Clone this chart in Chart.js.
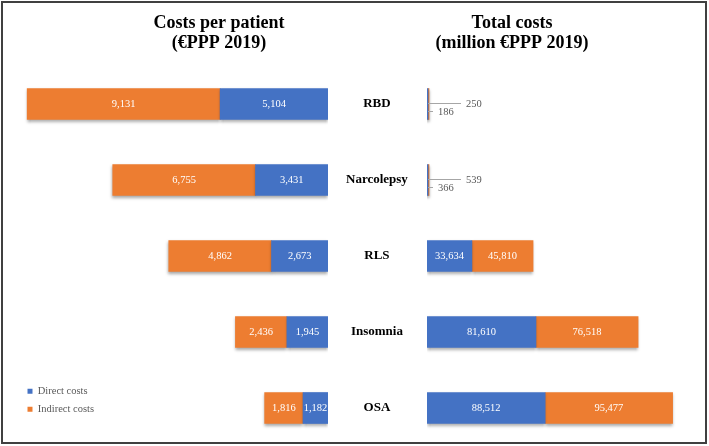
<!DOCTYPE html>
<html>
<head>
<meta charset="utf-8">
<script src="https://cdn.jsdelivr.net/npm/chart.js@4.4.1/dist/chart.umd.min.js"></script>
<style>
  html, body { margin: 0; padding: 0; background: #fff; }
  #wrap { position: relative; width: 709px; height: 446px; overflow: hidden; }
  #frame { position: absolute; left: 1px; top: 1px; width: 706px; height: 443px; border: 2px solid #404040; box-sizing: border-box; }
  canvas { position: absolute; top: 0; }
  #perPatient { left: 0; }
  #total { left: 330px; }
</style>
</head>
<body>
<div id="wrap">
  <div id="frame"></div>
  <canvas id="perPatient" width="427" height="446"></canvas>
  <canvas id="total" width="379" height="446"></canvas>
</div>
<script>
const disorders = ['RBD', 'Narcolepsy', 'RLS', 'Insomnia', 'OSA']
const directPerPatient = [5104, 3431, 2673, 1945, 1182]
const indirectPerPatient = [9131, 6755, 4862, 2436, 1816]
const directTotal = [186, 366, 33634, 81610, 88512]
const indirectTotal = [250, 539, 45810, 76518, 95477]

const BLUE = '#4472C4'
const ORANGE = '#ED7D31'

Chart.defaults.font.family = "'Liberation Serif', 'Times New Roman', serif"
Chart.defaults.animation = false

const titleFont = { size: 18, weight: 'bold', lineHeight: 20 / 18 }

// shadow under the bars + value labels on top
const barLabels = {
  id: 'barLabels',
  beforeDatasetsDraw(chart) {
    const ctx = chart.ctx
    ctx.save()
    ctx.shadowColor = 'rgba(0,0,0,0.35)'
    ctx.shadowBlur = 3
    ctx.shadowOffsetY = 2
  },
  afterDatasetsDraw(chart) {
    const ctx = chart.ctx
    ctx.restore()
    ctx.save()
    ctx.font = '10.5px "Liberation Serif"'
    ctx.textBaseline = 'middle'
    chart.data.datasets.forEach((ds, di) => {
      chart.getDatasetMeta(di).data.forEach((bar, i) => {
        const text = ds.data[i].toLocaleString('en-US')
        const w = Math.abs(bar.x - bar.base)
        if (w > 20) {
          ctx.fillStyle = '#fff'
          ctx.textAlign = 'center'
          ctx.fillText(text, (bar.x + bar.base) / 2, bar.y)
        } else {
          // tiny bars: label pulled out with a leader line
          const x0 = Math.min(bar.x, bar.base)
          const up = di === 1
          const ly = up ? bar.y - 1 : bar.y + 7
          const start = up ? x0 : x0 + 1
          const len = up ? 33 : 5
          ctx.strokeStyle = '#a6a6a6'
          ctx.lineWidth = 1
          ctx.beginPath()
          ctx.moveTo(start, Math.round(ly) + 0.5)
          ctx.lineTo(start + len, Math.round(ly) + 0.5)
          ctx.stroke()
          ctx.fillStyle = '#595959'
          ctx.textAlign = 'left'
          ctx.fillText(text, start + len + 5, ly + 1)
        }
      })
    })
    ctx.restore()
  }
}

// put the in-area legend in the bottom-left corner
const legendSpot = {
  id: 'legendSpot',
  afterLayout(chart) {
    const lg = chart.legend
    if (!lg) return
    lg.left += 9
    lg.top = chart.chartArea.top
    lg.bottom = chart.chartArea.bottom - 24
  }
}

new Chart(document.getElementById('perPatient'), {
  type: 'bar',
  data: {
    labels: disorders,
    datasets: [
      { label: 'Direct costs', data: directPerPatient, backgroundColor: BLUE },
      { label: 'Indirect costs', data: indirectPerPatient, backgroundColor: ORANGE }
    ]
  },
  options: {
    indexAxis: 'y',
    responsive: false,
    barThickness: 31,
    layout: { padding: { left: 11, right: 0, top: 0, bottom: 0 } },
    scales: {
      x: { display: false, stacked: true, reverse: true, min: 0, max: 15000 },
      y: {
        stacked: true,
        position: 'right',
        grid: { display: false, drawTicks: false },
        border: { display: false },
        ticks: { color: '#000', font: { size: 13, weight: 'bold' }, crossAlign: 'center', padding: 18 },
        afterFit(s) {
          s.width = 99
          s.paddingTop = 0
          s.paddingBottom = 0
        }
      }
    },
    plugins: {
      title: {
        display: true,
        text: ['Costs per patient', '(€PPP 2019)'],
        color: '#000',
        font: titleFont,
        padding: { top: 13, bottom: 13 }
      },
      legend: {
        position: 'chartArea',
        align: 'end',
        labels: { boxWidth: 5, boxHeight: 5, padding: 7.5, color: '#595959', font: { size: 10.5 } }
      },
      tooltip: { enabled: false }
    }
  },
  plugins: [barLabels, legendSpot]
})

new Chart(document.getElementById('total'), {
  type: 'bar',
  data: {
    labels: disorders,
    datasets: [
      { label: 'Direct costs', data: directTotal, backgroundColor: BLUE, minBarLength: 1 },
      { label: 'Indirect costs', data: indirectTotal, backgroundColor: ORANGE, minBarLength: 1 }
    ]
  },
  options: {
    indexAxis: 'y',
    responsive: false,
    barThickness: 31,
    layout: { padding: { left: 0, right: 15, top: 0, bottom: 0 } },
    scales: {
      x: { display: false, stacked: true, min: 0, max: 200000 },
      y: {
        stacked: true,
        grid: { display: false, drawTicks: false },
        border: { display: false },
        ticks: { display: false },
        afterFit(s) { s.width = 97 }
      }
    },
    plugins: {
      title: {
        display: true,
        text: ['Total costs', '(million €PPP 2019)'],
        color: '#000',
        font: titleFont,
        padding: { top: 13, bottom: 13 }
      },
      legend: { display: false },
      tooltip: { enabled: false }
    }
  },
  plugins: [barLabels]
})
</script>
</body>
</html>
